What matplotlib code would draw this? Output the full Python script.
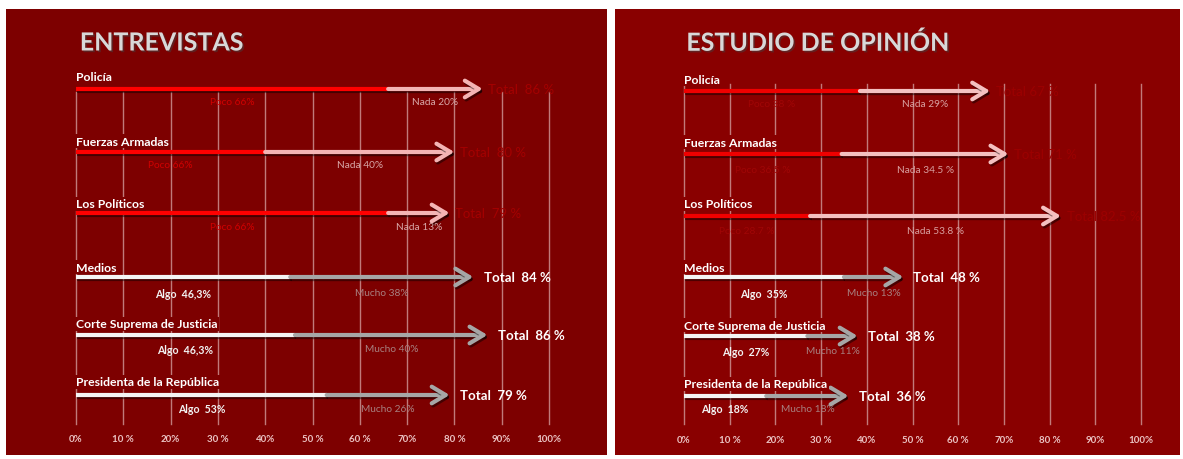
import matplotlib
matplotlib.use("Agg")
import matplotlib.pyplot as plt
import matplotlib.patheffects as pe

# ---------------- data ----------------
categories = ["Policía", "Fuerzas Armadas", "Los Políticos",
              "Medios", "Corte Suprema de Justicia", "Presidenta de la República"]

# Panel 1: ENTREVISTAS (drawn segment lengths, %)
ent_first = [66, 40, 66, 45.3, 46.3, 53]
ent_second = [20, 40, 13, 38.7, 40.7, 26]
ent_first_labels = ["Poco 66%", "Poco 66%", "Poco 66%", "Algo  46,3%", "Algo  46,3%", "Algo  53%"]
ent_second_labels = ["Nada 20%", "Nada 40%", "Nada 13%", "Mucho 38%", "Mucho 40%", "Mucho 26%"]
ent_total_labels = ["Total  86 %", "Total  80 %", "Total  79 %", "Total  84 %", "Total  86 %", "Total  79 %"]

# Panel 2: ESTUDIO DE OPINIÓN
opi_first = [38.5, 34.5, 27.6, 35, 27, 18]
opi_second = [28.5, 36.5, 54.9, 13, 11, 18]
opi_first_labels = ["Poco 38 %", "Poco 36.5 %", "Poco 28.7 %", "Algo  35%", "Algo  27%", "Algo  18%"]
opi_second_labels = ["Nada 29%", "Nada 34.5 %", "Nada 53.8 %", "Mucho 13%", "Mucho 11%", "Mucho 18%"]
opi_total_labels = ["Total 67 %", "Total 71 %", "Total 82.5 %", "Total  48 %", "Total  38 %", "Total  36 %"]

tick_values = [0, 10, 20, 30, 40, 50, 60, 70, 80, 90, 100]
tick_labels = ["0%", "10 %", "20%", "30 %", "40%", "50 %", "60 %", "70%", "80 %", "90%", "100%"]

# ---------------- style ----------------
FONT = ["Lato", "DejaVu Sans"]
plt.rcParams['font.family'] = FONT

W, H = 1183, 460
fig = plt.figure(figsize=(W / 100, H / 100), dpi=100, facecolor="white")


def make_panel(px0, px1, py0, py1, zero_px, hundred_px, bg):
    ax = fig.add_axes([px0 / W, 1 - py1 / H, (px1 - px0) / W, (py1 - py0) / H])
    ax.set_facecolor(bg)
    scale = (hundred_px - zero_px) / 100.0
    ax.set_xlim((px0 - zero_px) / scale, (px1 - zero_px) / scale)
    ax.set_ylim(py1, py0)
    for s in ax.spines.values():
        s.set_visible(False)
    ax.set_xticks([])
    ax.set_yticks([])
    return ax


def draw_panel(ax, title, title_x, first, second, lab1, lab2, labtot,
               row_label_y, row_arrow_y, row_sub_y, grid_top, grid_bot, tick_y, bg,
               top_colors, bottom_colors, tot_top_color, lab1_top_color, lab2_top_color):
    # title
    ax.text(title_x, 44, title, fontsize=18, fontweight="bold", color="#d8d8d8",
            va="center", ha="left",
            path_effects=[pe.withSimplePatchShadow(offset=(1.2, -1.2), alpha=0.5)])
    # gridlines
    for v in tick_values:
        ax.plot([v, v], [grid_top, grid_bot], color="#cc9090", lw=1.0, alpha=0.85, zorder=1)
    # tick labels
    for v, t in zip(tick_values, tick_labels):
        ax.text(v, tick_y, t, fontsize=7, fontweight="bold", color="#ecc4c4",
                ha="center", va="center")
    shadow = [pe.SimpleLineShadow(offset=(1, -1.5), alpha=0.45), pe.Normal()]
    for i, cat in enumerate(categories):
        top = i < 3
        c1, c2 = top_colors if top else bottom_colors
        ya = row_arrow_y[i]
        a, b = first[i], first[i] + second[i]
        ax.text(0, row_label_y[i], cat, fontsize=8.8, fontweight="bold", color="white",
                ha="left", va="center", zorder=5,
                bbox=dict(boxstyle="square,pad=0.12", facecolor=bg, edgecolor="none"))
        ax.plot([0, a], [ya, ya], color=c1, lw=3.0, solid_capstyle="butt", zorder=4,
                path_effects=shadow)
        ax.annotate("", xy=(b, ya), xytext=(a, ya), zorder=4,
                    arrowprops=dict(arrowstyle="->,head_length=1.0,head_width=0.6",
                                    color=c2, lw=3.0, shrinkA=0, shrinkB=0,
                                    mutation_scale=10, path_effects=shadow))
        if top:
            ax.text(b + 1.2, ya, labtot[i], fontsize=9.5, color=tot_top_color,
                    ha="left", va="center", zorder=5)
            ax.text(a / 2, row_sub_y[i], lab1[i], fontsize=7.3, color=lab1_top_color,
                    ha="center", va="center", zorder=5)
            ax.text((a + b) / 2, row_sub_y[i], lab2[i], fontsize=7.3, color=lab2_top_color,
                    ha="center", va="center", zorder=5)
        else:
            ax.text(b + 2.2, ya, labtot[i], fontsize=9.5, fontweight="bold", color="white",
                    ha="left", va="center", zorder=5)
            ax.text(a / 2, row_sub_y[i], lab1[i], fontsize=7.6, fontweight="bold",
                    color="#f2f2f2", ha="center", va="center", zorder=5)
            ax.text((a + b) / 2, row_sub_y[i], lab2[i], fontsize=7.3, color="#a88080",
                    ha="center", va="center", zorder=5)


BG1 = "#7d0000"
BG2 = "#890000"

ax1 = make_panel(6, 607, 10, 456, 76, 549, BG1)
draw_panel(ax1, "ENTREVISTAS", 0.8, ent_first, ent_second,
           ent_first_labels, ent_second_labels, ent_total_labels,
           [77, 142, 205, 268, 325, 383], [90, 153, 214, 278, 336, 396],
           [102, 165, 228, 294, 350, 410], 93, 425, 440, BG1,
           ("#ff0000", "#f4b4b4"), ("#f4f4f4", "#a6a6a6"),
           "#a40000", "#d00000", "#d8a8a8")

ax2 = make_panel(615, 1180, 10, 456, 684, 1141, BG2)
draw_panel(ax2, "ESTUDIO DE OPINIÓN", 0.5, opi_first, opi_second,
           opi_first_labels, opi_second_labels, opi_total_labels,
           [80, 143, 205, 268, 326, 385], [92, 155, 217, 278, 337, 397],
           [104, 170, 231, 294, 352, 410], 85, 425, 441, BG2,
           ("#f00000", "#f4c0c0"), ("#f4f4f4", "#a6a6a6"),
           "#9c0000", "#a00606", "#d8a0a0")

fig.savefig("out.png", dpi=100, facecolor="white")
